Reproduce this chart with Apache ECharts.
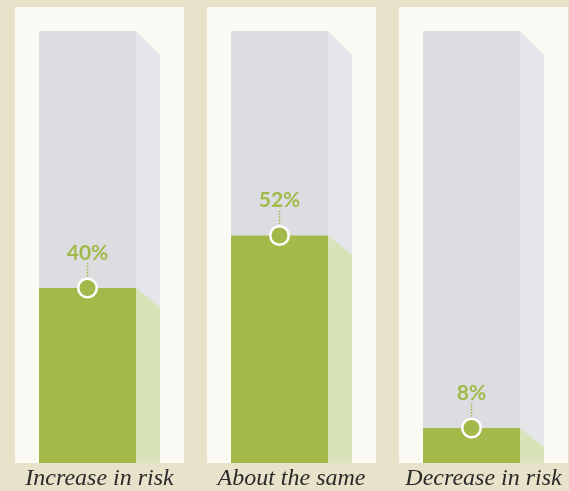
<!DOCTYPE html>
<html>
<head>
<meta charset="utf-8">
<script src="https://cdn.jsdelivr.net/npm/echarts@6/dist/echarts.min.js"></script>
<style>
html,body{margin:0;padding:0;background:#e9e2cb;}
#chart{width:569px;height:491px;}
</style>
</head>
<body>
<div id="chart"></div>
<script>
var categories = ['Increase in risk', 'About the same', 'Decrease in risk'];
var values = [40, 52, 8];
var labels = ['40%', '52%', '8%'];

var chart = echarts.init(document.getElementById('chart'));
var GREEN = '#a3b94a';

function renderItem(params, api) {
  var cat = api.value(0);
  var val = api.value(1);
  var p = api.coord([cat, val]);
  var base = api.coord([cat, 0])[1];
  var top100 = api.coord([cat, 100])[1];
  var top = top100 + 5.5;
  var cx = p[0];
  var vy = p[1];
  var s = api.size([1, 0])[0] / 192;
  var fl = cx - 60.5 * s, fr = cx + 36.5 * s, sr = cx + 60.5 * s;
  var mx = cx - 12 * s;
  var label = labels[params.dataIndex];
  return {
    type: 'group',
    children: [
      {type: 'rect', shape: {x: cx - 84.5 * s, y: top - 24, width: 169 * s, height: base - top + 24}, style: {fill: '#faf9f4'}},
      {type: 'rect', shape: {x: fl, y: top, width: fr - fl, height: base - top}, style: {fill: '#dcdde0'}},
      {type: 'polygon', shape: {points: [[fr, top], [sr, top + 24], [sr, base], [fr, base]]}, style: {fill: '#e5e6e9'}},
      {type: 'rect', shape: {x: fl, y: vy, width: fr - fl, height: base - vy}, style: {fill: GREEN}},
      {type: 'polygon', shape: {points: [[fr, vy], [sr, vy + 19], [sr, base], [fr, base]]}, style: {fill: '#d9e3b9'}},
      {type: 'line', shape: {x1: mx, y1: vy - 25, x2: mx, y2: vy - 10}, style: {stroke: GREEN, lineWidth: 1.5, lineDash: [1.5, 1.5]}},
      {type: 'circle', shape: {cx: mx, cy: vy, r: 9.25}, style: {fill: GREEN, stroke: '#ffffff', lineWidth: 2.5}},
      {type: 'text', x: mx, y: vy - 35, style: {text: label, fill: GREEN, font: 'bold 21px Lato', align: 'center', verticalAlign: 'middle'}}
    ]
  };
}

chart.setOption({
  backgroundColor: '#e9e2cb',
  animation: false,
  grid: {left: 3.5, top: 25.5, width: 576, bottom: 28, outerBoundsMode: 'none', containLabel: false},
  xAxis: {
    type: 'category',
    data: categories,
    axisLine: {show: false},
    axisTick: {show: false},
    axisLabel: {
      interval: 0,
      hideOverlap: false,
      color: '#2a2a2a',
      fontFamily: 'Liberation Serif',
      fontStyle: 'italic',
      fontSize: 24,
      margin: 4
    }
  },
  yAxis: {type: 'value', min: 0, max: 100, show: false, splitLine: {show: false}},
  series: [{
    type: 'custom',
    renderItem: renderItem,
    data: values.map(function (v, i) { return [i, v]; }),
    clip: false
  }]
});
</script>
</body>
</html>
